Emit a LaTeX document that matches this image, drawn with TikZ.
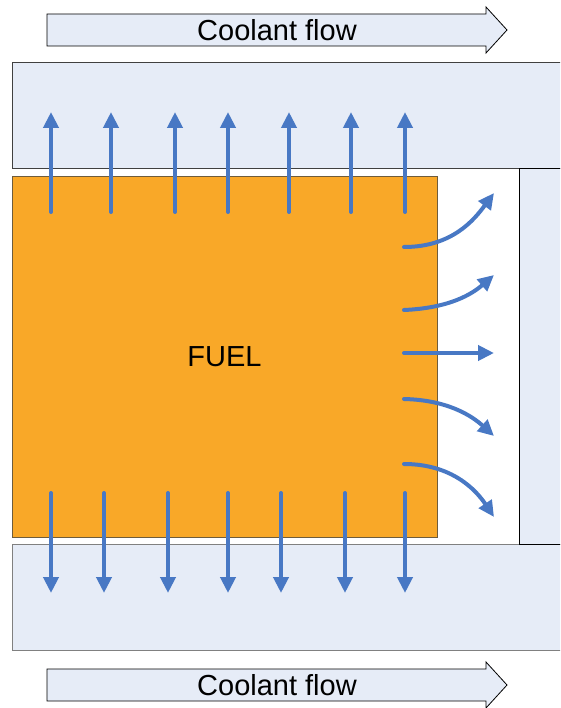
\documentclass[tikz,border=0pt]{standalone}
\usepackage{fontspec}
\setmainfont{Liberation Sans}
\usetikzlibrary{arrows.meta}
\definecolor{coolant}{RGB}{230,236,247}
\definecolor{heatblue}{RGB}{72,120,196}
\definecolor{fuelorange}{RGB}{249,168,40}
\definecolor{fueledge}{RGB}{110,92,60}
\begin{document}
\begin{tikzpicture}[x=1pt,y=-1pt,
    channel/.style={draw=black!75, fill=coolant, line width=0.8pt},
    flowarrow/.style={draw=black, fill=coolant, line width=0.8pt},
    heat/.style={draw=heatblue, line width=4pt, line cap=round, -{Triangle[length=16pt,width=15pt]}},
    bigtext/.style={font=\fontsize{29}{34}\selectfont}]
    \useasboundingbox (0,0) rectangle (560,708);
    \clip (0,0) rectangle (560,708);
    % Coolant channels
    \draw[channel] (12,62) rectangle (580,168);
    \draw[channel, draw=black!50] (12,544) rectangle (580,650);
    \draw[channel, draw=black] (519,168) rectangle (580,544);
    % Flow arrows
    \draw[flowarrow] (47,14) -- (486,14) -- (486,7) -- (507,30) -- (486,53) -- (486,46) -- (47,46) -- cycle;
    \node[bigtext] (flowtop) at (277,30) {Coolant flow};
    \draw[flowarrow] (47,669) -- (486,669) -- (486,662) -- (507,685) -- (486,708) -- (486,701) -- (47,701) -- cycle;
    \node[bigtext] (flowbot) at (277,685) {Coolant flow};
    % Fuel
    \node[draw=fueledge, fill=fuelorange, line width=0.8pt, minimum width=425pt, minimum height=361pt,
        inner sep=0pt, bigtext] (fuel) at (224.5,356.5) {FUEL};
    % Heat to the top
    \foreach \x [count=\i] in {51,111,175,228,289,351,405}
        \draw[heat] (\x,212) coordinate (ts\i) -- (\x,112) coordinate (te\i);
    % Heat to the bottom
    \foreach \x [count=\i] in {51,104,168,228,281,345,405}
        \draw[heat] (\x,493) coordinate (bs\i) -- (\x,593) coordinate (be\i);
    % Heat to the side
    \draw[heat] (404,247) coordinate (s1) .. controls (452,247) and (474,220) .. (494,193) coordinate (e1);
    \draw[heat] (404,310) coordinate (s2) .. controls (450,308) and (472,294) .. (494,275) coordinate (e2);
    \draw[heat] (404,353) coordinate (s3) -- (494,353) coordinate (e3);
    \draw[heat] (404,399) coordinate (s4) .. controls (448,400) and (472,416) .. (494,436) coordinate (e4);
    \draw[heat] (404,464) coordinate (s5) .. controls (452,464) and (476,490) .. (494,517) coordinate (e5);
\end{tikzpicture}
\end{document}
